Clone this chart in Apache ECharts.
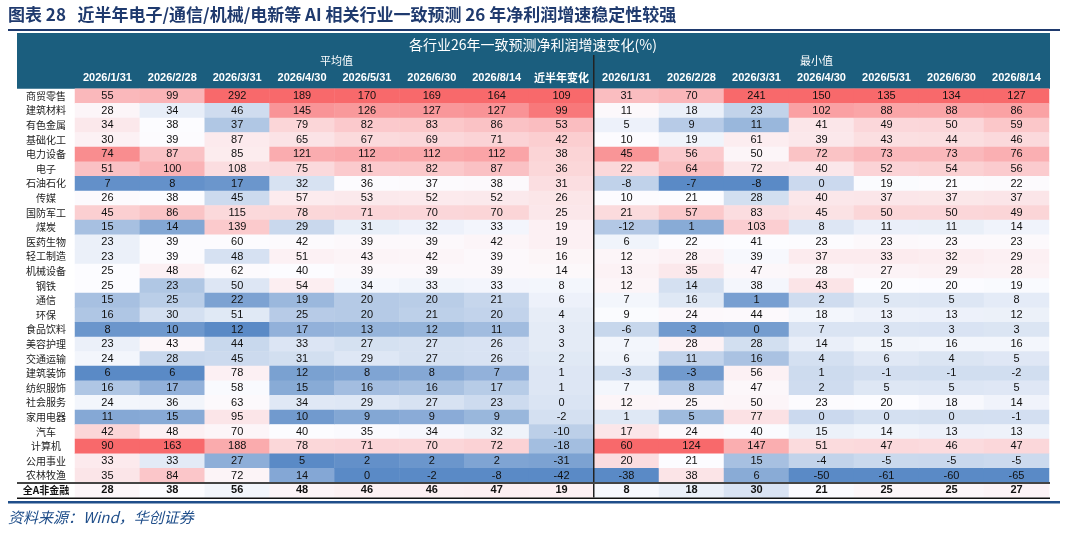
<!DOCTYPE html>
<html>
<head>
<meta charset="utf-8">
<script src="https://cdn.jsdelivr.net/npm/echarts@6/dist/echarts.min.js"></script>
<style>html,body{margin:0;padding:0;background:#fff}#main{width:1066px;height:533px}</style>
</head>
<body>
<div id="main"></div>
<script>
var industries = ['商贸零售','建筑材料','有色金属','基础化工','电力设备','电子','石油石化','传媒','国防军工','煤炭','医药生物','轻工制造','机械设备','钢铁','通信','环保','食品饮料','美容护理','交通运输','建筑装饰','纺织服饰','社会服务','家用电器','汽车','计算机','公用事业','农林牧渔','全A非金融'];
var avgCols = ['2026/1/31','2026/2/28','2026/3/31','2026/4/30','2026/5/31','2026/6/30','2026/8/14','近半年变化'];
var minCols = ['2026/1/31','2026/2/28','2026/3/31','2026/4/30','2026/5/31','2026/6/30','2026/8/14'];
// 平均值, one row per industry
var avgData = [
  [55,99,292,189,170,169,164,109],
  [28,34,46,145,126,127,127,99],
  [34,38,37,79,82,83,86,53],
  [30,39,87,65,67,69,71,42],
  [74,87,85,121,112,112,112,38],
  [51,100,108,75,81,82,87,36],
  [7,8,17,32,36,37,38,31],
  [26,38,45,57,53,52,52,26],
  [45,86,115,78,71,70,70,25],
  [15,14,139,29,31,32,33,19],
  [23,39,60,42,39,39,42,19],
  [23,39,48,51,43,42,39,16],
  [25,48,62,40,39,39,39,14],
  [25,23,50,54,34,33,33,8],
  [15,25,22,19,20,20,21,6],
  [16,30,51,25,20,21,20,4],
  [8,10,12,17,13,12,11,3],
  [23,43,44,33,27,27,26,3],
  [24,28,45,31,29,27,26,2],
  [6,6,78,12,8,8,7,1],
  [16,17,58,15,16,16,17,1],
  [24,36,63,34,29,27,23,0],
  [11,15,95,10,9,9,9,-2],
  [42,48,70,40,35,34,32,-10],
  [90,163,188,78,71,70,72,-18],
  [33,33,27,5,2,2,2,-31],
  [35,84,72,14,0,-2,-8,-42],
  [28,38,56,48,46,46,47,19]
];
// 最小值
var minData = [
  [31,70,241,150,135,134,127],
  [11,18,23,102,88,88,86],
  [5,9,11,41,49,50,59],
  [10,19,61,39,43,44,46],
  [45,56,50,72,73,73,76],
  [22,64,72,40,52,54,56],
  [-8,-7,-8,0,19,21,22],
  [10,21,28,40,37,37,37],
  [21,57,83,45,50,50,49],
  [-12,1,103,8,11,11,14],
  [6,22,41,23,23,23,23],
  [12,28,39,37,33,32,29],
  [13,35,47,28,27,29,28],
  [12,14,38,43,20,20,19],
  [7,16,1,2,5,5,8],
  [9,24,44,18,13,13,12],
  [-6,-3,0,7,3,3,3],
  [7,28,28,14,15,16,16],
  [6,11,16,4,6,4,5],
  [-3,-3,56,1,-1,-1,-2],
  [7,8,47,2,5,5,5],
  [12,25,50,23,20,18,14],
  [1,5,77,0,0,0,-1],
  [17,24,40,15,14,13,13],
  [60,124,147,51,47,46,47],
  [20,21,15,-4,-5,-5,-5],
  [-38,38,6,-50,-61,-60,-65],
  [8,18,30,21,25,25,27]
];

// per-column three-colour scale: min -> blue, median -> white, max -> red
function buildCells(table, nCols) {
  var out = [];
  for (var c = 0; c < nCols; c++) {
    var col = table.map(function (r) { return r[c]; });
    var s = col.slice().sort(function (a, b) { return a - b; });
    var mn = s[0], mx = s[s.length - 1];
    var m = s.length % 2 ? s[(s.length - 1) / 2] : (s[s.length / 2 - 1] + s[s.length / 2]) / 2;
    for (var r = 0; r < table.length; r++) {
      var v = table[r][c], t;
      if (v <= m) t = m === mn ? 0.5 : 0.5 * (v - mn) / (m - mn);
      else t = 0.5 + 0.5 * (v - m) / (mx - m);
      var item = {value: [c, r, t, v]};
      if (r === table.length - 1) item.label = {fontWeight: 'bold'};
      out.push(item);
    }
  }
  return out;
}

var myChart = echarts.init(document.getElementById('main'));
var rowH = 14.6;
var tableTop = 88.7, tableBottom = tableTop + rowH * industries.length;
var hdr = '#1b5e7e';
var cellLabel = {show: true, fontSize: 11, color: '#111', fontFamily: 'Liberation Sans',
  formatter: function (p) { return p.value[3]; }};
var xLab = {color: '#fff', fontSize: 11, fontWeight: 'bold', fontFamily: 'Liberation Sans', margin: 5, interval: 0,
  formatter: function (v) { return v === '近半年变化' ? '{c|' + v + '}' : v; },
  rich: {c: {color: '#fff', fontSize: 11, fontFamily: 'Noto Sans CJK SC', letterSpacing: 1}}};

var option = {
  animation: false,
  graphic: [
    {type: 'text', left: 8, top: 6, style: {text: '图表 28   近半年电子/通信/机械/电新等 AI 相关行业一致预测 26 年净利润增速稳定性较强',
      font: 'bold 17px "Noto Sans CJK SC"', fill: '#1f3a6e'}},
    {type: 'rect', shape: {x: 8, y: 29, width: 1052, height: 2}, style: {fill: '#1f3a6e'}},
    {type: 'rect', z: -1, shape: {x: 17, y: 33, width: 1033, height: tableTop - 33}, style: {fill: hdr}},
    {type: 'text', left: 'center', top: 38, style: {text: '各行业26年一致预测净利润增速变化(%)', font: '14px "Noto Sans CJK SC"', fill: '#fff'}},
    {type: 'text', left: 320, top: 55, style: {text: '平均值', font: '11px "Noto Sans CJK SC"', fill: '#fff'}},
    {type: 'text', left: 800, top: 55, style: {text: '最小值', font: '11px "Noto Sans CJK SC"', fill: '#fff'}},
    {type: 'rect', z: 10, shape: {x: 593, y: 55, width: 1.5, height: tableBottom - 55}, style: {fill: '#222'}},
    {type: 'rect', z: 10, shape: {x: 17, y: tableBottom - rowH - 1, width: 1033, height: 2}, style: {fill: '#444'}},
    {type: 'rect', z: 10, shape: {x: 17, y: tableBottom, width: 1033, height: 1.5}, style: {fill: '#111'}},
    {type: 'rect', shape: {x: 8, y: 501, width: 1052, height: 2.5}, style: {fill: '#1f4e8a'}},
    {type: 'text', left: 8, top: 510, style: {text: '资料来源：Wind，华创证券', font: 'italic 15px "Noto Sans CJK SC"', fill: '#1f4e8a'}}
  ],
  grid: [
    {left: 75, top: tableTop, width: 519, height: tableBottom - tableTop},
    {left: 594, top: tableTop, width: 455, height: tableBottom - tableTop}
  ],
  xAxis: [
    {type: 'category', gridIndex: 0, data: avgCols, position: 'top', axisLine: {show: false}, axisTick: {show: false}, axisLabel: xLab},
    {type: 'category', gridIndex: 1, data: minCols, position: 'top', axisLine: {show: false}, axisTick: {show: false}, axisLabel: xLab}
  ],
  yAxis: [
    {type: 'category', gridIndex: 0, data: industries, inverse: true, axisLine: {show: false}, axisTick: {show: false},
      axisLabel: {margin: 29, align: 'center', fontSize: 10, color: '#222', fontFamily: 'Noto Sans CJK SC', interval: 0,
        formatter: function (v) { return v === '全A非金融' ? '{b|' + v + '}' : v; },
        rich: {b: {fontWeight: 'bold', fontSize: 10, color: '#111', fontFamily: 'Noto Sans CJK SC'}}}},
    {type: 'category', gridIndex: 1, data: industries, inverse: true, axisLine: {show: false}, axisTick: {show: false}, axisLabel: {show: false}}
  ],
  visualMap: {show: false, min: 0, max: 1, dimension: 2, seriesIndex: [0, 1],
    inRange: {color: ['#5a8ac6', '#fcfcff', '#f8696b']}},
  series: [
    {type: 'heatmap', xAxisIndex: 0, yAxisIndex: 0, data: buildCells(avgData, avgCols.length), label: cellLabel},
    {type: 'heatmap', xAxisIndex: 1, yAxisIndex: 1, data: buildCells(minData, minCols.length), label: cellLabel}
  ]
};
myChart.setOption(option);
</script>
</body>
</html>
